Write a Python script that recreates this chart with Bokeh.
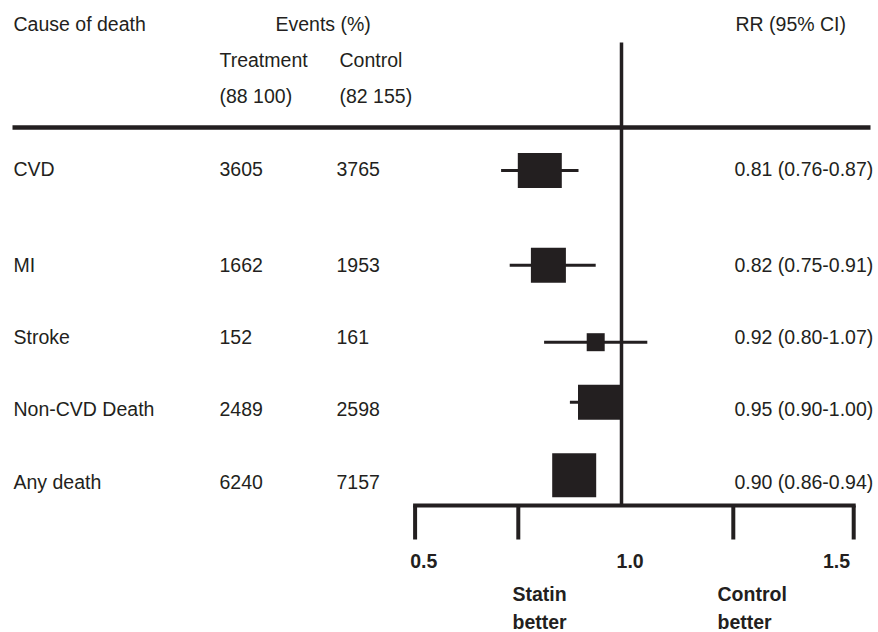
from bokeh.plotting import figure
from bokeh.models import Range1d, ColumnDataSource
from bokeh.core.properties import value
from bokeh.embed import file_html
from bokeh.resources import INLINE

# ---------------- data ----------------
CAUSES = ["CVD", "MI", "Stroke", "Non-CVD Death", "Any death"]
TREATMENT_EVENTS = ["3605", "1662", "152", "2489", "6240"]
CONTROL_EVENTS = ["3765", "1953", "161", "2598", "7157"]
RR_LABELS = ["0.81 (0.76-0.87)", "0.82 (0.75-0.91)", "0.92 (0.80-1.07)",
             "0.95 (0.90-1.00)", "0.90 (0.86-0.94)"]
# point estimates and interval ends as drawn in the picture
RR_POINT = [0.81, 0.83, 0.94, 0.95, 0.89]
CI_LOW = [0.72, 0.74, 0.82, 0.88, 0.86]
CI_HIGH = [0.90, 0.94, 1.06, 1.00, 0.94]
REF_VALUE = 1.0
AXIS_TICKS = [0.52, 0.76, 1.0, 1.26, 1.54]
AXIS_LABEL_POS = [0.54, 1.02, 1.50]
AXIS_LABELS = ["0.5", "1.0", "1.5"]
HEADERS = ["Cause of death", "Events (%)", "RR (95% CI)"]
SUBHEADERS = ["Treatment", "Control"]
GROUP_SIZES = ["(88 100)", "(82 155)"]

# ---------------- layout (page px) ----------------
W, H = 878, 632
TXT_SHIFT = 8.5      # text baseline correction

def X(px): return px
def Y(py): return py
def TY(py): return py - TXT_SHIFT

BOX_W = [44, 35, 18, 44, 44]
BOX_H = [35, 35, 18, 35, 44]
MARK_Y = [Y(v) for v in [170, 264.7, 341.7, 401.8, 474.7]]
TEXT_Y = [TY(v) for v in [177, 273, 345, 417, 490]]

INK = "#231f20"
FONT = value("Liberation Sans")
FS = "19.5px"

# RR scale: 1.0 at page x=621, 430 px per unit
rr_start = 1.0 - X(621) / 430.0
rr_end = 1.0 + (W - X(621)) / 430.0

p = figure(width=W, height=H, output_backend="svg", toolbar_location=None,
           x_range=Range1d(0, W), y_range=Range1d(H, 0),
           x_axis_type=None, y_axis_type=None, min_border=0,
           outline_line_color=None)
p.grid.visible = False
p.extra_x_ranges = {"rr": Range1d(rr_start, rr_end)}

def txt(xs, ys, texts, align="left", bold=False):
    p.text(x=xs, y=ys, text=texts, text_font=FONT, text_font_size=FS,
           text_color=INK, text_align=align, text_baseline="alphabetic",
           text_font_style="bold" if bold else "normal")

# header
txt([X(13), X(275), X(735)], [TY(32)] * 3, HEADERS)
txt([X(219), X(339)], [TY(68)] * 2, SUBHEADERS)
txt([X(219), X(339)], [TY(104)] * 2, GROUP_SIZES)

# header rule
p.segment(x0=[X(12)], y0=[Y(127)], x1=[X(870)], y1=[Y(127)],
          line_color=INK, line_width=4.5)

# rows
txt([X(13)] * 5, TEXT_Y, CAUSES)
txt([X(219)] * 5, TEXT_Y, TREATMENT_EVENTS)
txt([X(336)] * 5, TEXT_Y, CONTROL_EVENTS)
txt([X(734)] * 5, TEXT_Y, RR_LABELS)

# reference line
p.segment(x0=[REF_VALUE], y0=[Y(42)], x1=[REF_VALUE], y1=[Y(505)],
          line_color=INK, line_width=3.5, x_range_name="rr")

# confidence intervals and weighted boxes
src = ColumnDataSource(dict(rr=RR_POINT, lo=CI_LOW, hi=CI_HIGH, y=MARK_Y,
                            w=BOX_W, h=BOX_H))
p.segment(x0="lo", y0="y", x1="hi", y1="y", source=src, line_color=INK,
          line_width=3, x_range_name="rr")
p.rect(x="rr", y="y", width="w", height="h", width_units="screen",
       height_units="screen", source=src, fill_color=INK, line_color=None,
       x_range_name="rr")

# bottom bracket axis
p.segment(x0=[AXIS_TICKS[0]], y0=[Y(505)], x1=[AXIS_TICKS[-1]], y1=[Y(505)],
          line_color=INK, line_width=4, line_cap="square", x_range_name="rr")
tick_x = [t for t in AXIS_TICKS if t != REF_VALUE]
p.segment(x0=tick_x, y0=[Y(505)] * len(tick_x), x1=tick_x,
          y1=[Y(539)] * len(tick_x), line_color=INK, line_width=4,
          x_range_name="rr")
p.text(x=AXIS_LABEL_POS, y=[TY(569)] * 3, text=AXIS_LABELS, text_font=FONT,
       text_font_size=FS, text_color=INK, text_align="center",
       text_baseline="alphabetic", text_font_style="bold", x_range_name="rr")

txt([X(512), X(717)], [TY(602)] * 2, ["Statin", "Control"], bold=True)
txt([X(512), X(717)], [TY(630)] * 2, ["better", "better"], bold=True)

open("out.html", "w").write(file_html(p, INLINE))
